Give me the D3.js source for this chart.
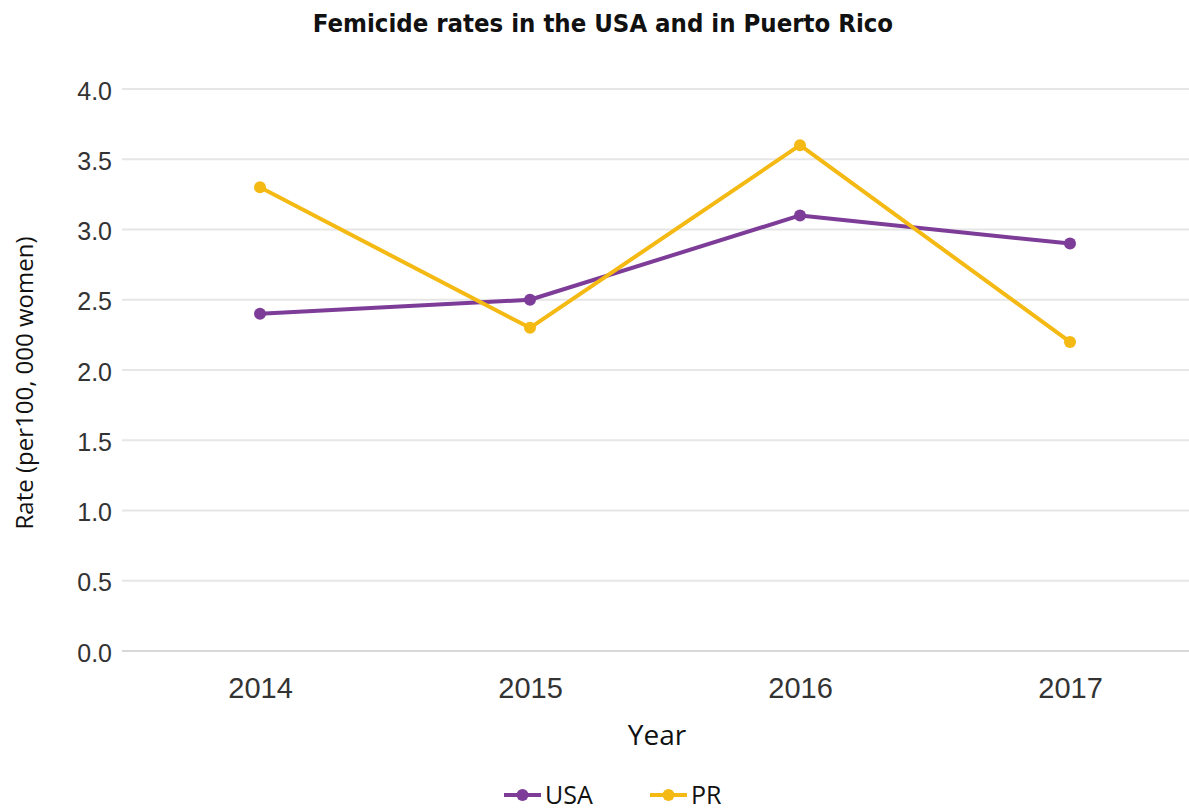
<!DOCTYPE html>
<html><head><meta charset="utf-8">
<script src="https://cdn.jsdelivr.net/npm/d3@7"></script>
<style>
body{margin:0;background:#fff;}
svg{display:block;}
</style></head>
<body><svg id="chart" width="1189" height="809"></svg>
<script>
const years = ["2014","2015","2016","2017"];
const usaValues = [2.4, 2.5, 3.1, 2.9];
const prValues = [3.3, 2.3, 3.6, 2.2];
const yTicks = [0, 0.5, 1.0, 1.5, 2.0, 2.5, 3.0, 3.5, 4.0];
const seriesNames = ["USA", "PR"];
const seriesColors = ["#7d3c98", "#f4b913"];

const svg = d3.select("#chart");
const x = d3.scalePoint().domain(years).range([125, 1205]).padding(0.5);
const y = d3.scaleLinear().domain([0, 4]).range([651, 89]);

// gridlines
svg.append("g").selectAll("line").data(yTicks).join("line")
  .attr("x1", 122).attr("x2", 1189)
  .attr("y1", d => y(d)).attr("y2", d => y(d))
  .attr("stroke", d => d === 0 ? "#d8d8d8" : "#e6e6e6").attr("stroke-width", 2);

// y axis labels
const yAxis = d3.axisLeft(y).tickValues(yTicks).tickFormat(d3.format(".1f")).tickSize(0).tickPadding(0);
const gy = svg.append("g").attr("transform", "translate(112,2)").call(yAxis);
gy.select(".domain").remove();
gy.selectAll("text").attr("font-family", "Liberation Sans, Arial, sans-serif")
  .attr("font-size", 25).attr("fill", "#333");

// x axis labels
const xAxis = d3.axisBottom(x).tickSize(0).tickPadding(0);
const gx = svg.append("g").attr("transform", "translate(0,677)").call(xAxis);
gx.select(".domain").remove();
gx.selectAll("text").attr("font-family", "Liberation Sans, Arial, sans-serif")
  .attr("font-size", 29).attr("fill", "#333");

// title
svg.append("text").attr("x", 603).attr("y", 32).attr("text-anchor", "middle")
  .attr("font-family", "DejaVu Sans Condensed, DejaVu Sans, sans-serif").attr("font-weight", "bold")
  .attr("font-size", 25.5).attr("fill", "#111").text("Femicide rates in the USA and in Puerto Rico");

// axis titles
svg.append("text").attr("transform", "translate(33,383) rotate(-90)").attr("text-anchor", "middle")
  .attr("font-family", "Open Sans, sans-serif").attr("font-size", 24).attr("fill", "#111")
  .text("Rate (per100, 000 women)");
svg.append("text").attr("x", 657).attr("y", 745).attr("text-anchor", "middle")
  .attr("font-family", "Open Sans, sans-serif").attr("font-size", 28).attr("fill", "#111").text("Year");

// lines
const series = [usaValues, prValues];
const line = d3.line().x((d, i) => x(years[i])).y(d => y(d));
series.forEach((vals, si) => {
  const g = svg.append("g");
  g.append("path").datum(vals).attr("d", line).attr("fill", "none")
    .attr("stroke", seriesColors[si]).attr("stroke-width", 4).attr("stroke-linejoin", "round");
  g.selectAll("circle").data(vals).join("circle")
    .attr("cx", (d, i) => x(years[i])).attr("cy", d => y(d)).attr("r", 6)
    .attr("fill", seriesColors[si]);
});

// legend
const legendX = [504, 650];
seriesNames.forEach((name, i) => {
  const g = svg.append("g").attr("transform", `translate(${legendX[i]},795)`);
  g.append("line").attr("x1", 0).attr("x2", 37).attr("stroke", seriesColors[i]).attr("stroke-width", 4);
  g.append("circle").attr("cx", 18.5).attr("r", 6).attr("fill", seriesColors[i]);
  g.append("text").attr("x", 41).attr("y", 8.5).attr("font-family", "Open Sans, sans-serif")
    .attr("font-size", 25).attr("fill", "#111").text(name);
});
</script></body></html>
